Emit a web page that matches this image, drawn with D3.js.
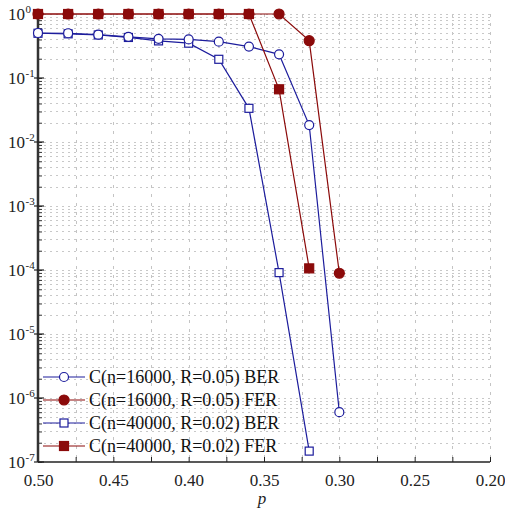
<!DOCTYPE html>
<html><head><meta charset="utf-8">
<script src="https://cdn.jsdelivr.net/npm/d3@7"></script>
</head><body>
<svg id="c" width="505" height="512"></svg>
<script>
const pValues = [0.50,0.48,0.46,0.44,0.42,0.40,0.38,0.36,0.34,0.32,0.30];
const ber16000 = [0.505,0.50,0.475,0.44,0.41,0.40,0.37,0.31,0.234,0.0184,6.0e-7];
const fer16000 = [1,1,1,1,1,1,1,1,1,0.383,8.9e-5];
const ber40000 = [0.50,0.49,0.47,0.43,0.38,0.35,0.196,0.0336,9.1e-5,1.48e-7];
const fer40000 = [1,1,1,1,1,1,1,1,0.0666,1.06e-4];
const seriesNames = ["C(n=16000, R=0.05) BER","C(n=16000, R=0.05) FER","C(n=40000, R=0.02) BER","C(n=40000, R=0.02) FER"];
const xTicks = [0.50,0.45,0.40,0.35,0.30,0.25,0.20];
const yExps = [0,-1,-2,-3,-4,-5,-6,-7];

const blue = "#1c1c9c", red = "#8b0a0a";
const series = [
  {name:seriesNames[0], vals:ber16000, color:blue, shape:"circle", fill:false},
  {name:seriesNames[1], vals:fer16000, color:red, shape:"circle", fill:true},
  {name:seriesNames[2], vals:ber40000, color:blue, shape:"square", fill:false},
  {name:seriesNames[3], vals:fer40000, color:red, shape:"square", fill:true}
];
const FONT = '"Liberation Serif"';
function serif(sel){ sel.style("font-family", FONT, "important"); return sel; }

d3.select("body").style("margin","0");
const svg = d3.select("#c").style("display","block");
const L=38, R=490, T=14, B=462;
const x = d3.scaleLinear().domain([0.50,0.20]).range([L,R]);
const y = d3.scaleLog().domain([1e-7,1]).range([B,T]);

// grid
const g = svg.append("g");
const xGrid = d3.range(0,13).map(i=>0.50-i*0.025);
g.selectAll(".vg").data(xGrid.slice(1)).enter().append("line")
  .attr("x1",d=>Math.round(x(d))+0.5).attr("x2",d=>Math.round(x(d))+0.5).attr("y1",T).attr("y2",B)
  .attr("stroke","#c4c4c4").attr("stroke-width",1).attr("stroke-dasharray","3,6");
const yGrid=[];
for(let e=-7;e<0;e++){for(let m=2;m<=9;m++) yGrid.push(m*Math.pow(10,e));}
for(let e=-6;e<=0;e++) yGrid.push(Math.pow(10,e));
g.selectAll(".hg").data(yGrid).enter().append("line")
  .attr("x1",L).attr("x2",R).attr("y1",d=>Math.round(y(d))+0.5).attr("y2",d=>Math.round(y(d))+0.5)
  .attr("stroke","#c8c8c8").attr("stroke-width",1).attr("stroke-dasharray","2,4");

// axes
const xAxis = d3.axisBottom(x).tickValues(xGrid).tickSize(-5).tickFormat(d=>xTicks.some(t=>Math.abs(t-d)<1e-9)?d3.format(".2f")(d):"");
const ax = svg.append("g").attr("transform",`translate(0,${B})`).call(xAxis);
ax.attr("font-family",null);
ax.select(".domain").attr("stroke","#222").attr("stroke-width",1.5).attr("d",`M${L},0H${R}`);
ax.selectAll(".tick line").attr("stroke","#222");
serif(ax.selectAll("text")).attr("font-size",17).attr("fill","#222").attr("dy","1.25em");

const yMinor=[];
for(let e=-7;e<0;e++){for(let m=1;m<=9;m++) yMinor.push(m*Math.pow(10,e));}
yMinor.push(1);
const ay = svg.append("g").attr("transform",`translate(${L},0)`).call(d3.axisLeft(y).tickValues(yMinor).tickSize(-4).tickFormat(""));
ay.attr("font-family",null);
ay.select(".domain").attr("stroke","#333").attr("stroke-width",2.5).attr("d",`M0,${T}V${B}`);
ay.selectAll(".tick line").attr("stroke","#333");
svg.selectAll(".ymaj").data(yExps).enter().append("line")
  .attr("x1",L-4).attr("x2",L+6).attr("y1",d=>y(Math.pow(10,d))).attr("y2",d=>y(Math.pow(10,d)))
  .attr("stroke","#222").attr("stroke-width",1.2);
serif(svg.selectAll(".ylab").data(yExps).enter().append("text"))
  .attr("x",25).attr("y",d=>y(Math.pow(10,d))+5.5)
  .attr("text-anchor","end").attr("font-size",17).attr("fill","#222").text("10");
serif(svg.selectAll(".yexp").data(yExps).enter().append("text"))
  .attr("x",25.5).attr("y",d=>y(Math.pow(10,d))-1.5)
  .attr("font-size",11).attr("fill","#222").text(d=>d===0?"0":"-"+(-d));

serif(svg.append("text")).attr("x",262).attr("y",504).attr("text-anchor","middle")
  .attr("font-style","italic").attr("font-size",17).attr("fill","#222").text("p");

// series
const line = d3.line().x(d=>x(d.p)).y(d=>y(d.v));
function marker(sel, s){
  if(s.shape==="circle"){
    sel.append("circle").attr("r",s.fill?5:4.5)
      .attr("fill",s.fill?s.color:"#fff").attr("stroke",s.color).attr("stroke-width",1.2);
  } else {
    const h = s.fill?4.5:4;
    sel.append("rect").attr("x",-h).attr("y",-h).attr("width",2*h).attr("height",2*h)
      .attr("fill",s.fill?s.color:"#fff").attr("stroke",s.color).attr("stroke-width",1.2);
  }
}
const drawOrder=[2,0,3,1];
drawOrder.forEach(i=>{
  const s=series[i];
  const pts = s.vals.map((v,j)=>({p:pValues[j],v}));
  svg.append("path").datum(pts).attr("d",line).attr("fill","none").attr("stroke",s.color).attr("stroke-width",1.2);
});
drawOrder.forEach(i=>{
  const s=series[i];
  const pts = s.vals.map((v,j)=>({p:pValues[j],v}));
  svg.append("g").selectAll("g").data(pts).enter().append("g")
    .attr("transform",d=>`translate(${x(d.p)},${y(d.v)})`).each(function(){marker(d3.select(this),s);});
});

// legend
const lg = svg.append("g");
series.forEach((s,i)=>{
  const yy = 377+i*23;
  lg.append("line").attr("x1",43).attr("x2",85).attr("y1",yy).attr("y2",yy).attr("stroke",s.color).attr("stroke-width",1.2);
  const m = lg.append("g").attr("transform",`translate(64,${yy})`);
  marker(m,s);
  serif(lg.append("text")).attr("x",89).attr("y",yy+6).attr("font-size",18).attr("fill","#111").text(s.name);
});
</script>
</body></html>
